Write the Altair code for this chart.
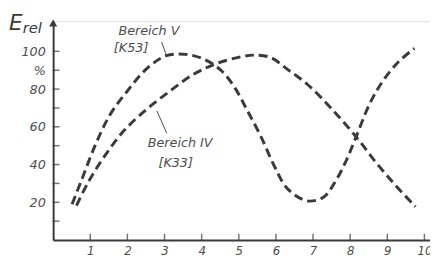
import altair as alt
import pandas as pd

# Bereich V [K53]
v_x = [0.51, 0.77, 1.12, 1.52, 2.0, 2.53, 3.05, 3.58, 4.1, 4.54, 4.9, 5.23, 5.6, 5.95, 6.3, 6.83, 7.28, 7.63, 7.9, 8.16, 8.52, 8.87, 9.31, 9.73]
v_y = [19, 32, 49.6, 66, 79, 91, 97.7, 98.4, 95.5, 89.6, 80.5, 68.6, 54.7, 39.5, 27.5, 20.8, 22.7, 32, 42.4, 54.7, 72, 84, 94.6, 101.6]
# Bereich IV [K33]
iv_x = [0.63, 0.94, 1.38, 1.91, 2.53, 3.15, 3.77, 4.38, 5.08, 5.4, 5.85, 6.33, 6.86, 7.48, 8.16, 8.7, 9.23, 9.76]
iv_y = [18.3, 30.5, 44.3, 58, 69.5, 79, 87.7, 93.4, 97.2, 98, 96.8, 90.2, 82.3, 70, 54.7, 41, 28.8, 17.6]

x_ticks = [1, 2, 3, 4, 5, 6, 7, 8, 9, 10]
y_ticks = [10, 20, 30, 40, 50, 60, 70, 80, 90, 100]
y_labels = [20, 40, 60, 80, 90, 100]

ann_text = ["Bereich V", "[K53]", "Bereich IV", "[K33]"]
ann_x = [2.58, 2.1, 3.42, 3.3]
ann_y = [111, 101.5, 51.5, 41]

lead_x = [2.92, 3.05, 2.79, 3.06]
lead_y = [105, 98, 68.6, 56.6]
lead_id = ["V", "V", "IV", "IV"]

FONT = "DejaVu Sans"
INK = "#3a3a3a"
TXT = "#4d4d4d"

curves = pd.DataFrame({
    "x": v_x + iv_x,
    "y": v_y + iv_y,
    "s": ["V"] * len(v_x) + ["IV"] * len(iv_x),
    "o": list(range(len(v_x))) + list(range(len(iv_x))),
})

xs = alt.Scale(domain=[0, 10.15], nice=False, zero=False)
ys = alt.Scale(domain=[0, 116], nice=False)

base_x = alt.X("x:Q", scale=xs, axis=alt.Axis(
    values=x_ticks, ticks=False, grid=False, title=None,
    domainColor=INK, domainWidth=2, labelFont=FONT, labelFontStyle="italic",
    labelFontSize=12, labelColor=TXT, labelPadding=6))
base_y = alt.Y("y:Q", scale=ys, axis=alt.Axis(
    values=y_labels, ticks=False, grid=False, title=None,
    labelExpr="datum.value == 90 ? '%' : datum.label",
    domainColor=INK, domainWidth=2, labelFont=FONT, labelFontStyle="italic",
    labelFontSize=13, labelColor=TXT, labelPadding=8))

lines = alt.Chart(curves).mark_line(
    color=INK, strokeWidth=3, strokeDash=[9, 5], interpolate="catmull-rom", strokeCap="butt"
).encode(x=base_x, y=base_y, detail="s:N", order="o:Q")

ytk = alt.Chart(pd.DataFrame({"y": y_ticks})).mark_tick(
    color=INK, thickness=1.5, size=7, xOffset=3, orient="horizontal"
).encode(x=alt.datum(0, scale=xs), y=alt.Y("y:Q", scale=ys))

xtk = alt.Chart(pd.DataFrame({"x": x_ticks})).mark_tick(
    color=INK, thickness=1.5, size=7, yOffset=-3, orient="vertical"
).encode(x=alt.X("x:Q", scale=xs), y=alt.datum(0, scale=ys))

arrow = alt.Chart(pd.DataFrame({"x": [0], "y": [115]})).mark_point(
    shape="triangle-up", filled=True, size=70, color=INK, opacity=1
).encode(x=alt.X("x:Q", scale=xs), y=alt.Y("y:Q", scale=ys))

ann = alt.Chart(pd.DataFrame({"x": ann_x, "y": ann_y, "t": ann_text})).mark_text(
    font=FONT, fontStyle="italic", fontSize=13, color=TXT, baseline="middle"
).encode(x=alt.X("x:Q", scale=xs), y=alt.Y("y:Q", scale=ys), text="t:N")

leads = alt.Chart(pd.DataFrame({"x": lead_x, "y": lead_y, "g": lead_id})).mark_line(
    color=TXT, strokeWidth=1
).encode(x=alt.X("x:Q", scale=xs), y=alt.Y("y:Q", scale=ys), detail="g:N")

e_txt = alt.Chart(pd.DataFrame({"t": ["E"]})).mark_text(
    font=FONT, fontStyle="italic", fontSize=22, color=INK, align="left", baseline="alphabetic"
).encode(x=alt.value(-45), y=alt.value(9), text="t:N")
rel_txt = alt.Chart(pd.DataFrame({"t": ["rel"]})).mark_text(
    font=FONT, fontStyle="italic", fontSize=15, color=INK, align="left", baseline="alphabetic"
).encode(x=alt.value(-31), y=alt.value(12), text="t:N")

chart = alt.layer(lines, ytk, xtk, arrow, leads, ann, e_txt, rel_txt).properties(
    width=384, height=223,
    autosize=alt.AutoSizeParams(type="none"),
    padding={"left": 46, "top": 11, "right": 0, "bottom": 22},
).configure_view(stroke=None).configure(background="white")

chart.save("out.html", embed_options={"renderer": "svg", "actions": False})
